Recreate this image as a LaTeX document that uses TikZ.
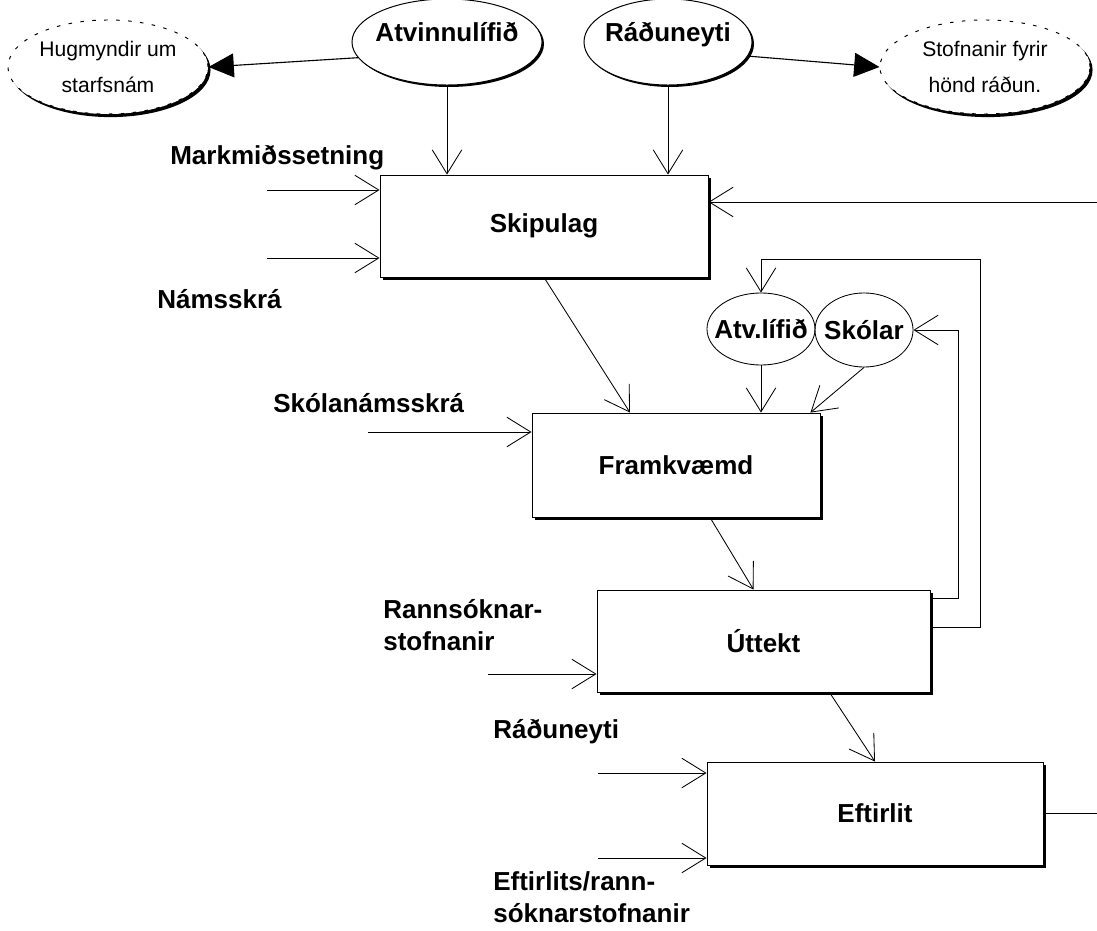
\documentclass[tikz,border=0pt]{standalone}
\usepackage{fontspec}
\setmainfont{Liberation Sans}
\usetikzlibrary{shapes.geometric,arrows.meta,shadows}

\begin{document}
\begin{tikzpicture}[
    x=0.025cm, y=-0.025cm,
    stage/.style={draw, fill=white, line width=0.6pt, font=\fontsize{18.5}{23}\selectfont\bfseries,
        drop shadow={shadow xshift=2.4pt, shadow yshift=-2.4pt, fill=black, opacity=1}},
    actor/.style={ellipse, draw, fill=white, inner sep=0pt, line width=0.7pt, font=\fontsize{18.5}{23}\selectfont\bfseries,
        drop shadow={shadow xshift=1.4pt, shadow yshift=-1.4pt, fill=black, opacity=1}},
    outside/.style={actor, dash pattern=on 2.5pt off 6pt, font=\fontsize{15}{25}\selectfont, align=center,
        drop shadow={shadow xshift=1.8pt, shadow yshift=-2.2pt, fill=black, opacity=1}},
    group/.style={ellipse, draw, inner sep=0pt, line width=0.6pt, font=\fontsize{18.5}{23}\selectfont\bfseries},
    source/.style={anchor=west, align=left, inner sep=0pt, font=\fontsize{18.5}{23}\selectfont\bfseries},
    flow/.style={-{Straight Barb[length=17pt, width=21pt]}, line width=0.6pt},
    hand/.style={-{Triangle[length=18pt, width=17pt]}, line width=0.8pt},
]
    \useasboundingbox (0,0) rectangle (1097,931);

    % Outside parties
    \node[actor, minimum width=4.75cm, minimum height=2.15cm] (atv) at (447,42) {\makebox[0pt]{\smash{Atvinnulífið}}};
    \node[actor, minimum width=4.2cm, minimum height=2.15cm] (rad) at (668,42) {\makebox[0pt]{\smash{Ráðuneyti}}};
    \node[outside, minimum width=5cm, minimum height=2.35cm] (hug) at (108,67) {Hugmyndir um\\starfsnám};
    \node[outside, minimum width=5.25cm, minimum height=2.35cm] (stofn) at (985,67) {Stofnanir fyrir\\hönd ráðun.};

    % Stages
    \node[stage, minimum width=8.2cm, minimum height=2.55cm] (skip) at (544,226) {Skipulag};
    \node[stage, minimum width=7.2cm, minimum height=2.6cm] (framk) at (676,465) {Framkvæmd};
    \node[stage, minimum width=8.325cm, minimum height=2.55cm] (uttekt) at (763.5,641) {Úttekt};
    \node[stage, minimum width=8.4cm, minimum height=2.575cm] (eftir) at (875,813.5) {Eftirlit};

    % Groups
    \node[group, minimum width=2.7cm, minimum height=1.8cm] (atvl) at (761,329) {\makebox[0pt]{Atv.lífið}};
    \node[group, minimum width=2.45cm, minimum height=1.85cm] (skolar) at (864,330) {\makebox[0pt]{Skólar}};

    % Labels
    \node[source] (mark) at (170,158) {Markmiðssetning};
    \node[source] (nams) at (157,299) {Námsskrá};
    \node[source] (skn) at (273,403) {Skólanámsskrá};
    \node[source] (rann) at (383,625) {Rannsóknar-\\stofnanir};
    \node[source] (radb) at (493,732) {Ráðuneyti};
    \node[source] (eftl) at (493,897) {Eftirlits/rann-\\sóknarstofnanir};

    % Free ends
    \coordinate (in1) at (267,190);
    \coordinate (in2) at (267,258);
    \coordinate (in3) at (368,432);
    \coordinate (in4) at (488,674);
    \coordinate (in5) at (598,773);
    \coordinate (in6) at (598,858);
    \coordinate (back) at (1097,202);
    \coordinate (out) at (1097,813.5);
    \coordinate (loopA) at (980,259);
    \coordinate (loopB) at (958,330);

    % Inputs
    \draw[flow] (in1) -- (in1 -| skip.west);
    \draw[flow] (in2) -- (in2 -| skip.west);
    \draw[flow] (in3) -- (in3 -| framk.west);
    \draw[flow] (in4) -- (in4 -| uttekt.west);
    \draw[flow] (in5) -- (in5 -| eftir.west);
    \draw[flow] (in6) -- (in6 -| eftir.west);
    \draw[flow] (atv.south) -- (atv.south |- skip.north);
    \draw[flow] (rad.south) -- (rad.south |- skip.north);
    \draw[hand] (atv.190) -- (hug.east);
    \draw[hand] (rad.350) -- (stofn.west);

    % Main chain
    \draw[flow] (skip.south) -- ([xshift=-1.15cm]framk.north);
    \draw[flow] ([xshift=0.85cm]framk.south) -- ([xshift=-0.25cm]uttekt.north);
    \draw[flow] ([xshift=1.65cm]uttekt.south) -- (eftir.north);
    \draw[flow] (atvl.south) -- (atvl.south |- framk.north);
    \draw[flow] (skolar.south) -- ([xshift=-0.25cm]framk.north east);

    % Feedback
    \draw[flow] ([yshift=0.35cm]uttekt.east) -| (loopA) -| (atvl.north);
    \draw[flow] ([yshift=1.075cm]uttekt.east) -| (loopB) -- (skolar.east);
    \draw (eftir.east) -- (out);
    \draw[flow] (back) -- (back -| skip.east);
\end{tikzpicture}
\end{document}
